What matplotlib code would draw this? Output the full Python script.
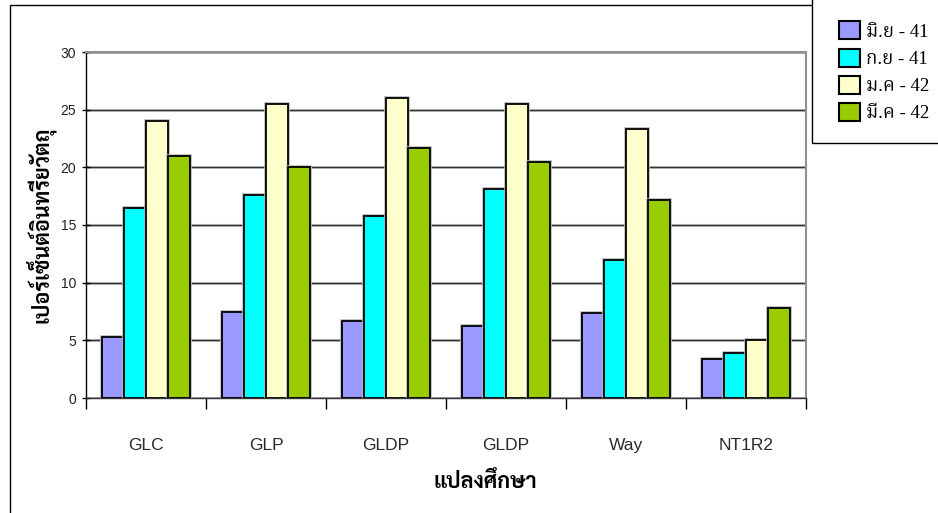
import matplotlib
matplotlib.use("Agg")
import numpy as np
import matplotlib.pyplot as plt
from matplotlib.patches import Rectangle
import matplotlib.patheffects as pe

# Organic matter (%) per study plot, four sampling dates
plots = ["GLC", "GLP", "GLDP", "GLDP", "Way", "NT1R2"]
dates = ["มิ.ย - 41", "ก.ย - 41", "ม.ค - 42", "มี.ค - 42"]
jun41 = [5.3, 7.5, 6.7, 6.2, 7.4, 3.4]
sep41 = [16.5, 17.6, 15.8, 18.1, 12.0, 3.9]
jan42 = [24.0, 25.5, 26.0, 25.5, 23.3, 5.0]
mar42 = [21.0, 20.0, 21.7, 20.5, 17.2, 7.8]
colors = ["#9999FF", "#00FFFF", "#FFFFCC", "#99CC00"]

thai_sans = ["Sarabun", "Noto Sans Thai Looped", "Noto Sans Thai", "DejaVu Sans"]
thai_serif = ["Liberation Serif", "Noto Serif Thai", "Taviraj", "DejaVu Serif"]
plt.rcParams["font.family"] = ["Liberation Sans", "DejaVu Sans"]

W, H = 938, 513
fig = plt.figure(figsize=(W / 100, H / 100), dpi=100)

# outer chart frame
fig.patches.append(Rectangle((10 / W, -0.1), 1.2, 1 - 5 / H + 0.1,
                             transform=fig.transFigure, fill=False,
                             edgecolor="black", linewidth=1.0, zorder=0))

ax = fig.add_axes([86 / W, 1 - 398 / H, 720 / W, 346 / H])
ax.set_facecolor("none")

series = [jun41, sep41, jan42, mar42]
x = np.arange(len(plots))
bw = 0.183
halo = [pe.Stroke(linewidth=2.6, foreground="#b8b8b8"), pe.Normal()]
for i, (vals, col) in enumerate(zip(series, colors)):
    bars = ax.bar(x + (i - 1.5) * bw, vals, bw, color=col, edgecolor="black",
                  linewidth=1.3, label=dates[i], zorder=3)
    for b in bars:
        b.set_path_effects(halo)

ax.set_xlim(-0.5, len(plots) - 0.5)
ax.set_ylim(0, 30)
ax.set_yticks(np.arange(0, 31, 5))
ax.yaxis.grid(True, color="#333333", linewidth=1.0, zorder=0,
              path_effects=[pe.Stroke(linewidth=2.2, foreground="#c8c8c8"), pe.Normal()])
ax.set_axisbelow(True)

for s in ["top", "right"]:
    ax.spines[s].set_color("#909090")
    ax.spines[s].set_linewidth(1.5)
ax.spines["left"].set_color("black")
ax.spines["bottom"].set_color("#333333")
ax.spines["left"].set_linewidth(1.0)
ax.spines["bottom"].set_linewidth(1.0)

ax.set_yticklabels([str(v) for v in range(0, 31, 5)], fontsize=10, color="#222222")
ax.tick_params(axis="y", length=6, width=1.0, direction="inout", pad=4)

# category boundaries carry the x ticks, names sit in between
ax.set_xticks(np.arange(len(plots) + 1) - 0.5)
ax.set_xticklabels([])
ax.tick_params(axis="x", length=8, width=1.0, direction="out")
for xi, name in zip(x, plots):
    ax.text(xi, -0.136, name, transform=ax.get_xaxis_transform(), ha="center",
            va="center", fontsize=12.5, color="#2a2a2a")

fig.text(40 / W, 1 - 225 / H, "เปอร์เซ็นต์อินทรียวัตถุ", rotation=90, ha="center",
         va="center", fontsize=15.5, fontweight="bold", family=thai_sans)
fig.text(485 / W, 1 - 483 / H, "แปลงศึกษา", ha="center", va="center",
         fontsize=15.5, fontweight="bold", family=thai_sans)

# legend box runs off the top-right corner
fig.patches.append(Rectangle((812 / W, 1 - 143 / H), 0.5, 0.5,
                             transform=fig.transFigure, facecolor="white",
                             edgecolor="black", linewidth=1.0, zorder=1))
leg = fig.legend(loc="upper left", bbox_to_anchor=(830 / W, 1 - 12 / H),
                 frameon=False, prop={"family": thai_serif, "size": 13.5},
                 handlelength=1.1, handleheight=1.1, handletextpad=0.3,
                 labelspacing=0.42, borderpad=0)
leg.set_zorder(2)
for h in leg.legend_handles:
    h.set_path_effects([])
    h.set_linewidth(1.5)

fig.savefig("out.png", dpi=100)
